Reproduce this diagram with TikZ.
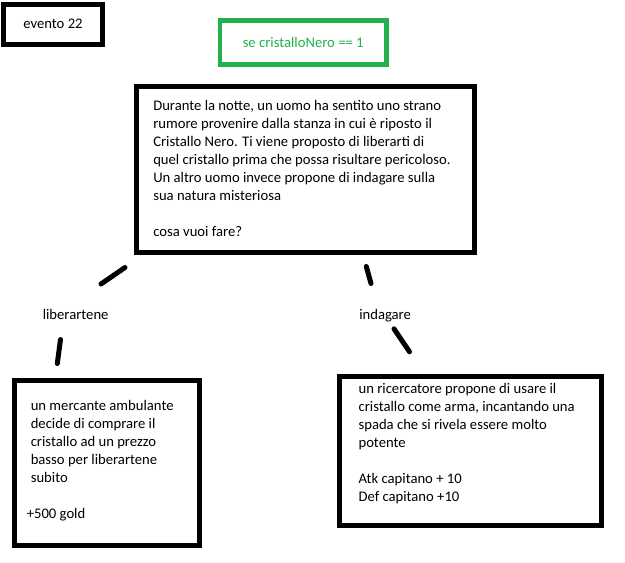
\documentclass[tikz,border=0pt]{standalone}
\usepackage{fontspec}
\setmainfont{Carlito}
\usepackage{tikz}
\usetikzlibrary{positioning}
\definecolor{verdepaint}{HTML}{22B14C}

\begin{document}
\begin{tikzpicture}[x=0.75pt, y=-0.75pt,
    every node/.style={font=\fontsize{11pt}{13.5pt}\selectfont, inner sep=0pt},
    riquadro/.style={draw, line width=3.75pt},
    condbox/.style={draw=verdepaint, line width=3.2pt, text=verdepaint},
    testo/.style={align=left, anchor=north west},
    scelta/.style={anchor=base west},
    tratto/.style={line width=3.75pt, line cap=round}]

    \useasboundingbox (0,0) rectangle (625,562);

    % Header: event number and condition
    \node[riquadro, minimum width=74.25pt, minimum height=30pt] (evento) at (53,24.2) {evento 22};
    \node[condbox, minimum width=125pt, minimum height=33pt] (condizione) at (303.2,42.5) {se cristalloNero == 1};

    % Main situation box
    \node[riquadro, minimum width=253.3pt, minimum height=124.5pt] (situazione) at (305.3,169.5) {};
    \node[testo] (situazione-t) at (153,100.5) {Durante la notte, un uomo ha sentito uno strano\\
        rumore provenire dalla stanza in cui è riposto il\\
        Cristallo Nero. Ti viene proposto di liberarti di\\
        quel cristallo prima che possa risultare pericoloso.\\
        Un altro uomo invece propone di indagare sulla\\
        sua natura misteriosa\\[13.5pt]
        cosa vuoi fare?};

    % Choices
    \node[scelta] (liberartene) at (42.5,319.5) {liberartene};
    \node[scelta] (indagare) at (359,319.5) {indagare};

    % Outcome boxes
    \node[riquadro, minimum width=138.75pt, minimum height=123.75pt] (esito-lib) at (106.7,463.3) {};
    \node[testo] (esito-lib-t) at (30.5,400) {un mercante ambulante\\
        decide di comprare il\\
        cristallo ad un prezzo\\
        basso per liberartene\\
        subito\\[13.5pt]
        \hspace*{-3pt}+500 gold};

    \node[riquadro, minimum width=196.1pt, minimum height=111.5pt] (esito-ind) at (470.7,451.2) {};
    \node[testo] (esito-ind-t) at (358.3,383.5) {un ricercatore propone di usare il\\
        cristallo come arma, incantando una\\
        spada che si rivela essere molto\\
        potente\\[13.5pt]
        Atk capitano + 10\\
        Def capitano +10};

    % Hand-drawn strokes between boxes and choices
    \coordinate (lib-a) at (125,267.5);
    \coordinate (lib-b) at (101,284);
    \coordinate (lib-c) at (60.5,339.5);
    \coordinate (lib-d) at (57.3,363.5);
    \coordinate (ind-a) at (366.3,266.5);
    \coordinate (ind-b) at (371,283.5);
    \coordinate (ind-c) at (394,328.8);
    \coordinate (ind-d) at (409.5,351.8);
    \draw[tratto] (lib-a) -- (lib-b);
    \draw[tratto] (lib-c) -- (lib-d);
    \draw[tratto] (ind-a) -- (ind-b);
    \draw[tratto] (ind-c) -- (ind-d);

\end{tikzpicture}
\end{document}
